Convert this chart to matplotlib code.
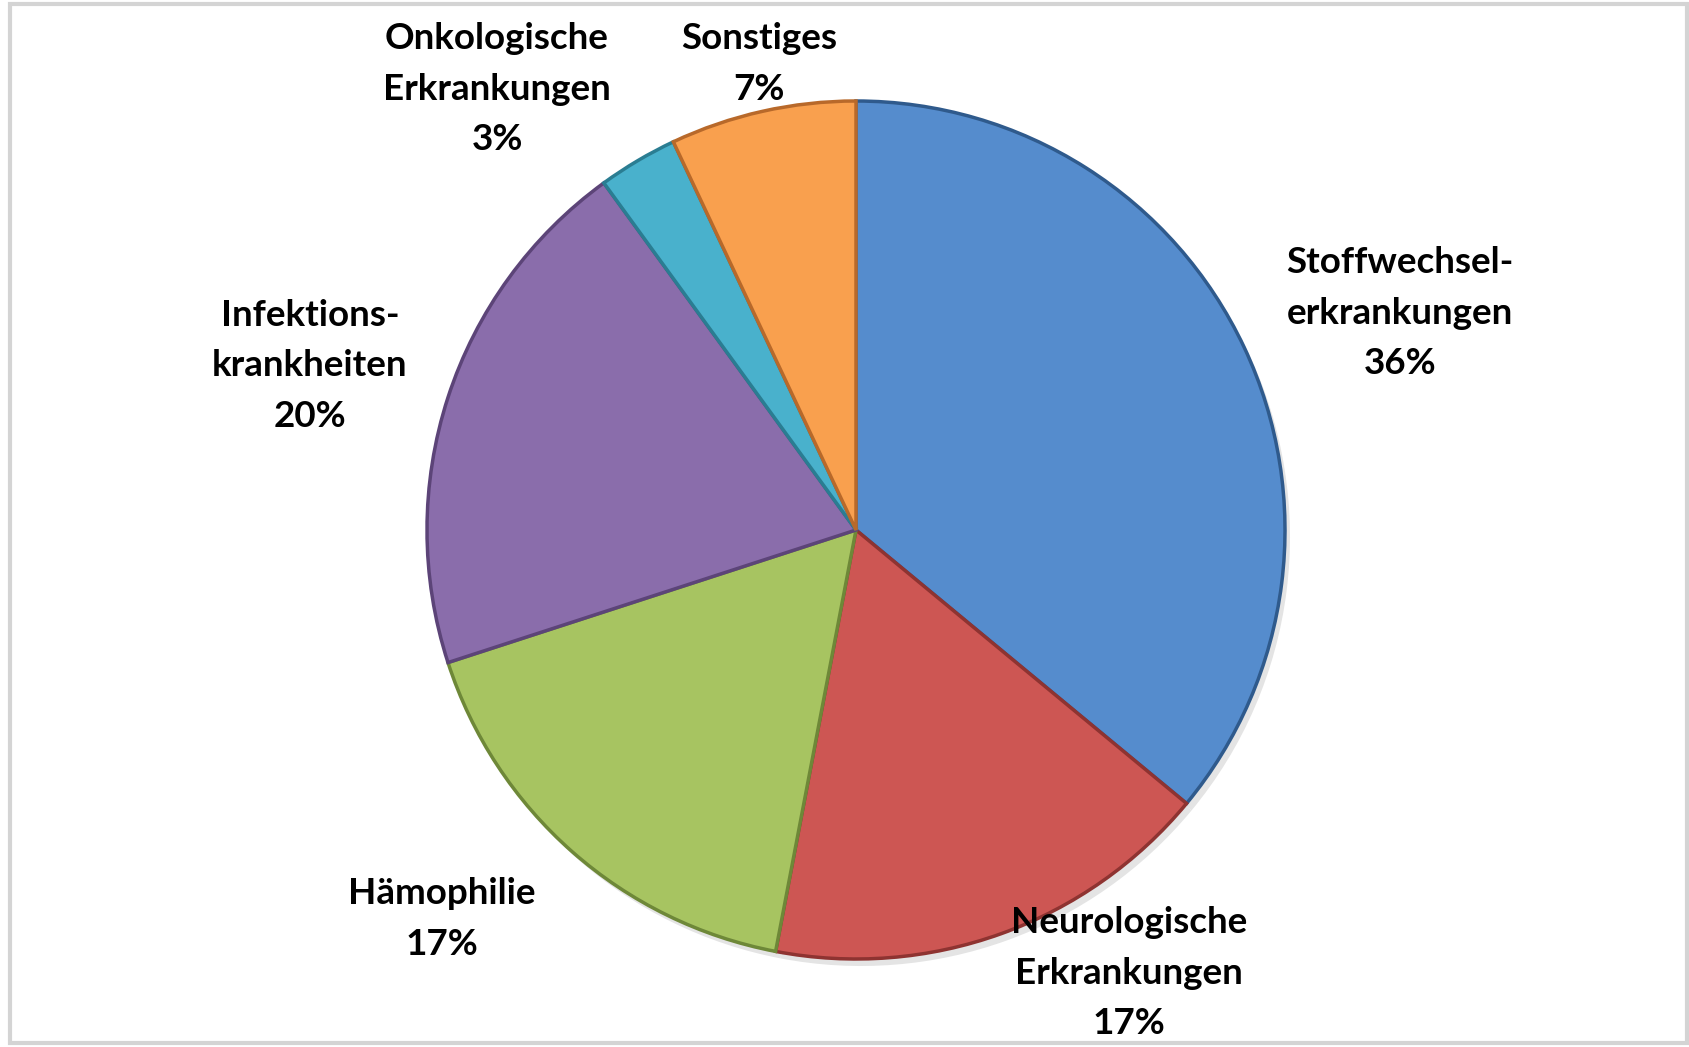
import matplotlib.pyplot as plt
from matplotlib.patches import Rectangle

# data
labels = ["Stoffwechsel-\nerkrankungen", "Neurologische\nErkrankungen", "Hämophilie",
          "Infektions-\nkrankheiten", "Onkologische\nErkrankungen", "Sonstiges"]
shares = [36, 17, 17, 20, 3, 7]
colors = ["#558CCD", "#CD5653", "#A7C461", "#8A6DAB", "#49B1CC", "#F9A04E"]
edges = ["#2F5A8C", "#8E3331", "#6E8838", "#5C4478", "#2A7D92", "#B8692A"]

# label block centres (pixels, origin top-left)
label_pos = [(1400, 313), (1129, 973), (442, 919), (310, 366), (497, 89), (759, 64)]

W, H = 1689, 1047
fig = plt.figure(figsize=(W / 100, H / 100), dpi=100)
ax = fig.add_axes([0, 0, 1, 1])

# thin grey frame
ax.add_patch(Rectangle((10, 4), W - 12, H - 8, fill=False, ec="#D4D4D4", lw=3))

cx, cy, r = 856, H - 530, 429

# soft shadow
ax.pie(shares, center=(cx + 5, cy - 7), radius=r, startangle=90, counterclock=False,
       colors=["#E4E4E4"] * len(shares), wedgeprops=dict(lw=0), frame=True)

wedges, _ = ax.pie(shares, center=(cx, cy), radius=r, startangle=90, counterclock=False,
                   colors=colors, wedgeprops=dict(lw=2.5), frame=True)
for w, e in zip(wedges, edges):
    w.set_edgecolor(e)

ax.set_xlim(0, W)
ax.set_ylim(0, H)
ax.axis("off")

for lab, val, (x, y) in zip(labels, shares, label_pos):
    ax.text(x, H - y, f"{lab}\n{val}%", ha="center", va="center", fontsize=26.5,
            fontweight="bold", family=["Lato", "DejaVu Sans"], linespacing=1.63,
            color="black")

fig.savefig("out.png", dpi=100)
